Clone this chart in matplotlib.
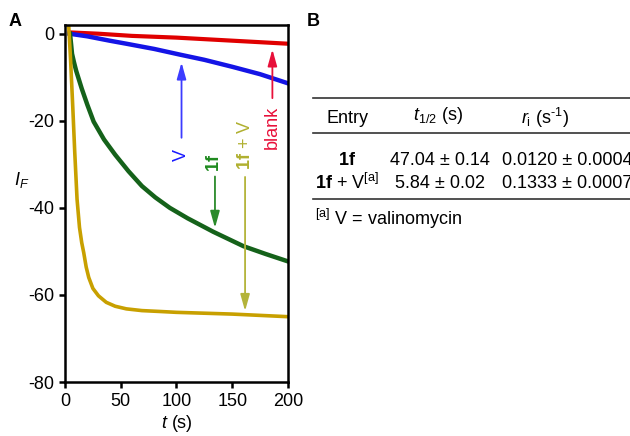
import matplotlib
matplotlib.use("Agg")
import matplotlib.pyplot as plt
from matplotlib.lines import Line2D

plt.rcParams['font.family'] = ['Liberation Sans', 'DejaVu Sans']
plt.rcParams['mathtext.fontset'] = 'custom'
plt.rcParams['mathtext.rm'] = 'Liberation Sans'
plt.rcParams['mathtext.it'] = 'Liberation Sans:italic'
plt.rcParams['mathtext.bf'] = 'Liberation Sans:bold'
plt.rcParams['axes.unicode_minus'] = False

# traces (time in s, fluorescence change)
t_blank = [4, 30, 60, 100, 150, 200]
y_blank = [0.3, 0.0, -0.5, -0.9, -1.6, -2.3]

t_v = [4, 20, 40, 55, 80, 103, 125, 150, 175, 200]
y_v = [0.0, -0.6, -1.6, -2.3, -3.5, -4.8, -6.0, -7.6, -9.3, -11.4]

t_1f = [4.5, 5.5, 6.3, 8, 10, 15, 20, 25.7, 35, 45, 57, 69, 81, 94, 110, 133, 160, 180, 200]
y_1f = [0.0, -2.5, -4.6, -6.5, -8.5, -12.6, -16.3, -20.2, -24.3, -27.8, -31.6, -35.0,
        -37.6, -40.0, -42.4, -45.5, -48.8, -50.6, -52.3]

t_1fv = [3.3, 5, 7, 8.7, 10.8, 13, 15, 16.8, 19, 21.3, 25, 30, 37, 45, 55, 69, 85, 100, 150, 200]
y_1fv = [2.0, -6, -17, -27, -38, -44.5, -48, -50.3, -53.6, -56.0, -58.5, -60.2, -61.7,
         -62.6, -63.2, -63.6, -63.8, -64.0, -64.4, -65.0]

# table B
col_heads = ["Entry", "$t_{1/2}$ (s)", r"$r_\mathrm{i}$ (s$^{\text{-1}}$)"]
entries = [r"$\mathbf{1f}$", r"$\mathbf{1f}$ + V$^{\mathrm{[a]}}$"]
t_half = ["47.04 ± 0.14", "5.84 ± 0.02"]
r_init = ["0.0120 ± 0.0004", "0.1333 ± 0.0007"]
footnote = r"$^{\mathrm{[a]}}$ V = valinomycin"

W, H = 630, 436
fig = plt.figure(figsize=(6.3, 4.36), dpi=100)


def fx(px):
    return px / W


def fy(py):
    return 1 - py / H


ax = fig.add_axes([fx(65), fy(382), fx(288) - fx(65), fy(25) - fy(382)])
ax.plot(t_blank, y_blank, color='#e00000', lw=3)
ax.plot(t_v, y_v, color='#1414e6', lw=3.2)
ax.plot(t_1f, y_1f, color='#15621a', lw=3.2)
ax.plot(t_1fv, y_1fv, color='#c8a000', lw=2.6)

ax.set_xlim(0, 200)
ax.set_ylim(-80, 2)
ax.set_xticks([0, 50, 100, 150, 200])
ax.set_yticks([0, -20, -40, -60, -80])
ax.tick_params(labelsize=13, length=4.5, width=1.8, direction='out')
for s in ax.spines.values():
    s.set_linewidth(1.8)
ax.set_xlabel("$t$ (s)", fontsize=13, labelpad=2)
ax.set_ylabel("$I_F$", fontsize=13, rotation=0, va='center', ha='center')
ax.yaxis.set_label_coords((22 - 65) / 223, (382 - 180) / 357)


def mark(x, ytail, ytip, col, label, ylab, lcol):
    ax.annotate("", xy=(x, ytip), xytext=(x, ytail),
                arrowprops=dict(arrowstyle='-|>,head_length=1.0,head_width=0.28',
                                color=col, lw=1.3, shrinkA=0, shrinkB=0))
    ax.text(x, ylab, label, rotation=90, color=lcol, fontsize=13,
            ha='center', va='center')


mark(104.5, -23.9, -6.6, '#3c3cff', "V", -27.8, '#1a1aff')
mark(186, -14.8, -3.6, '#e8103a', "blank", -21.4, '#e8103a')
mark(134.5, -32.8, -44.6, '#2a8a2a', r"$\mathbf{1f}$", -29.7, '#1f8a1f')
mark(161.5, -32.9, -63.7, '#b4b43a', r"$\mathbf{1f}$ + V", -25.4, '#b0b030')

fig.text(fx(15), fy(22), "A", fontsize=13, fontweight='bold', ha='center', va='center')
fig.text(fx(313), fy(22), "B", fontsize=13, fontweight='bold', ha='center', va='center')

for py in [98, 133, 199]:
    fig.add_artist(Line2D([fx(313), fx(632)], [fy(py), fy(py)], color='#333333', lw=1.2))

col_x = [347, 438, 545]
fig.text(fx(col_x[0]), fy(118), col_heads[0], fontsize=13, ha='center', va='center')
fig.text(fx(col_x[1]), fy(116), col_heads[1], fontsize=13, ha='center', va='center')
fig.text(fx(col_x[2]), fy(118), col_heads[2], fontsize=13, ha='center', va='center')
for i, py in enumerate([160, 183]):
    fig.text(fx(col_x[0]), fy(py), entries[i], fontsize=13, ha='center', va='center')
    fig.text(fx(440), fy(py), t_half[i], fontsize=13, ha='center', va='center')
    fig.text(fx(502), fy(py), r_init[i], fontsize=13, ha='left', va='center')
fig.text(fx(315), fy(219), footnote, fontsize=13, ha='left', va='center')

fig.savefig("out.png", dpi=100)
